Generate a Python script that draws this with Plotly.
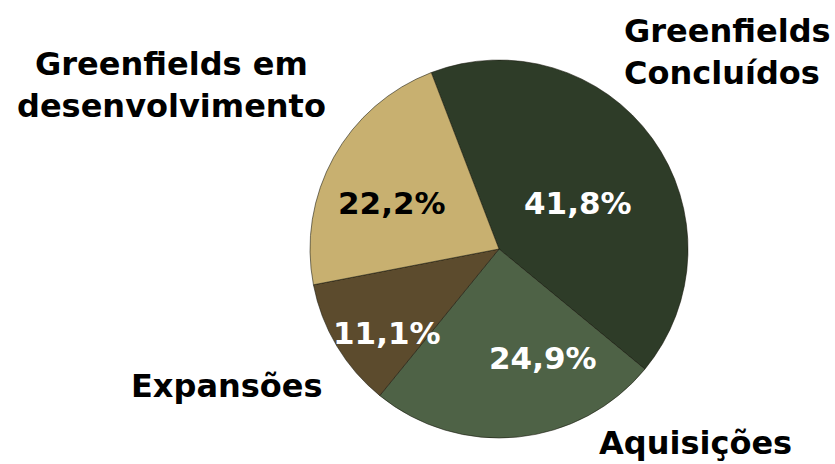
import plotly.graph_objects as go

# Share of projects by type (%)
categories = ["Greenfields<br>Concluídos", "Aquisições", "Expansões", "Greenfields em<br>desenvolvimento"]
shares = [41.8, 24.9, 11.1, 22.2]
slice_colors = ["#2E3C28", "#4E6246", "#5C4B2D", "#C8B070"]
value_text_colors = ["white", "white", "white", "black"]

W, H = 835, 464
FONT = "DejaVu Sans"

fig = go.Figure()
fig.add_trace(go.Pie(
    labels=categories,
    values=shares,
    sort=False,
    direction="clockwise",
    rotation=-21,
    marker=dict(colors=slice_colors, line=dict(color="rgba(20,20,10,0.55)", width=1)),
    textinfo="none",
    showlegend=False,
    hoverinfo="label+percent",
    domain=dict(x=[310 / W, 688 / W], y=[1 - 438 / H, 1 - 60 / H]),
))

# Percentage labels inside the slices
value_pos = [(578, 203), (543, 358), (387, 333), (392, 203)]
for v, col, (px, py) in zip(shares, value_text_colors, value_pos):
    fig.add_annotation(
        x=px / W, y=1 - py / H, xref="paper", yref="paper",
        text=f"{v:.1f}%".replace(".", ","), showarrow=False,
        font=dict(family=FONT, size=31, color=col, weight="bold"),
        xanchor="center", yanchor="middle",
    )

# Category names placed around the pie
label_pos = [(622, 52, "left"), (695, 443, "center"), (227, 386, "center"), (171, 85, "center")]
for name, (px, py, al) in zip(categories, label_pos):
    fig.add_annotation(
        x=px / W, y=1 - py / H, xref="paper", yref="paper",
        text=name, showarrow=False, align=al,
        font=dict(family=FONT, size=32, color="black", weight="bold"),
        xanchor="left" if al == "left" else "center", yanchor="middle",
    )

fig.update_layout(
    width=W, height=H,
    margin=dict(l=0, r=0, t=0, b=0),
    paper_bgcolor="white", plot_bgcolor="white",
    separators=",.",
)

fig.write_html("out.html")
